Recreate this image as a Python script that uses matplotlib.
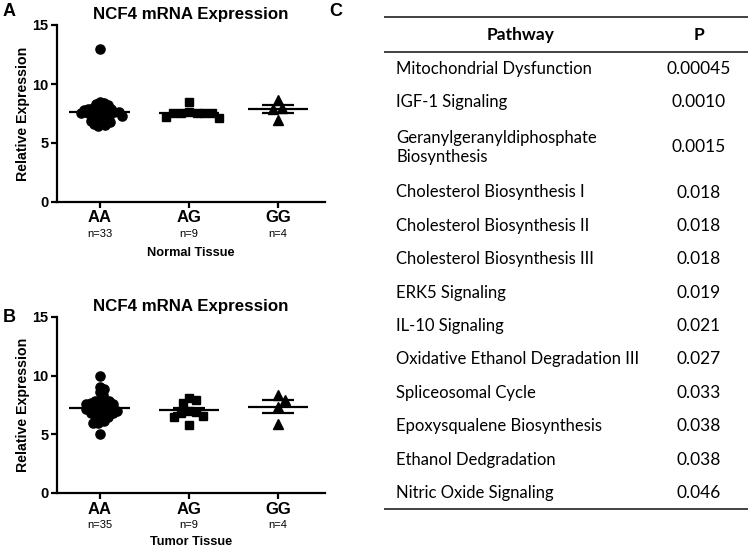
import numpy as np
import matplotlib
matplotlib.use("Agg")
import matplotlib.pyplot as plt

# genotype groups
groups = ["AA", "AG", "GG"]

# panel A - normal tissue
normal_aa = [13.0, 8.5, 8.4, 8.3, 8.2, 8.1, 8.0, 8.0, 7.9, 7.9, 7.8, 7.8, 7.7, 7.7,
             7.6, 7.6, 7.5, 7.5, 7.4, 7.4, 7.3, 7.3, 7.2, 7.1, 7.0, 6.9, 6.9, 6.8,
             6.7, 6.6, 6.5, 6.4, 7.6]
normal_ag = [8.5, 7.55, 7.5, 7.55, 7.5, 7.6, 7.5, 7.2, 7.15]
normal_gg = [8.64, 6.95, 7.9, 7.95]

# panel B - tumor tissue
tumor_aa = [10.0, 9.0, 8.85, 8.6, 8.35, 7.9, 7.9, 7.8, 7.8, 7.7, 7.6, 7.6, 7.5, 7.5,
            7.4, 7.3, 7.3, 7.2, 7.1, 7.1, 7.0, 7.0, 6.9, 6.8, 6.8, 6.7, 6.6, 6.5,
            6.45, 6.3, 6.1, 5.95, 5.95, 5.0, 7.2]
tumor_ag = [8.1, 7.9, 7.7, 7.0, 5.8, 6.9, 6.8, 6.6, 6.5]
tumor_gg = [8.35, 7.93, 7.31, 5.85]

# panel C - pathway table
pathways = ["Mitochondrial Dysfunction", "IGF-1 Signaling",
            "Geranylgeranyldiphosphate\nBiosynthesis", "Cholesterol Biosynthesis I",
            "Cholesterol Biosynthesis II", "Cholesterol Biosynthesis III",
            "ERK5 Signaling", "IL-10 Signaling", "Oxidative Ethanol Degradation III",
            "Spliceosomal Cycle", "Epoxysqualene Biosynthesis", "Ethanol Dedgradation",
            "Nitric Oxide Signaling"]
pvalues = ["0.00045", "0.0010", "0.0015", "0.018", "0.018", "0.018", "0.019",
           "0.021", "0.027", "0.033", "0.038", "0.038", "0.046"]

W, H = 750, 548
fig = plt.figure(figsize=(W / 100, H / 100), dpi=100)
arial = "Liberation Sans"


def swarm(vals, ppu_x, ppu_y, diam):
    # simple beeswarm: put each point as close to the centre as it can go
    ys = np.asarray(vals, dtype=float) * ppu_y
    xs = np.zeros(len(ys))
    placed = []
    for i in np.argsort(-ys):
        cands = [0.0]
        for xj, yj in placed:
            dy = ys[i] - yj
            if abs(dy) < diam:
                dx = np.sqrt(diam ** 2 - dy ** 2)
                cands += [xj + dx, xj - dx]
        cands.sort(key=abs)
        for c in cands:
            if all((c - xj) ** 2 + (ys[i] - yj) ** 2 >= diam ** 2 - 1e-6 for xj, yj in placed):
                xs[i] = c
                break
        placed.append((xs[i], ys[i]))
    return xs / ppu_x


def dot_panel(rect, data, ns, xlabel, letter):
    ax = fig.add_axes(rect)
    ax.set_xlim(0.52, 3.53)
    ax.set_ylim(0, 15)
    ppu_x = ax.bbox.width / 3.01
    ppu_y = ax.bbox.height / 15
    markers = [("o", 6.6, 4.6), ("s", 5.8, 7.8), ("^", 6.8, 9.0)]
    for k, vals in enumerate(data):
        x0 = k + 1
        off = swarm(vals, ppu_x, ppu_y, markers[k][2])
        ax.plot(x0 + off, vals, linestyle="none", marker=markers[k][0],
                markersize=markers[k][1], color="black", clip_on=False)
        m = np.mean(vals)
        sem = np.std(vals, ddof=1) / np.sqrt(len(vals))
        ax.hlines(m, x0 - 0.34, x0 + 0.34, color="black", lw=1.6)
        ax.hlines([m - sem, m + sem], x0 - 0.18, x0 + 0.18, color="black", lw=1.6)
    for s in ["top", "right"]:
        ax.spines[s].set_visible(False)
    for s in ["left", "bottom"]:
        ax.spines[s].set_linewidth(1.6)
    ax.set_yticks([0, 5, 10, 15])
    ax.set_xticks([1, 2, 3])
    ax.set_xticklabels([])
    ax.tick_params(width=1.6, length=4, labelsize=10.5, pad=2)
    for lab in ax.get_yticklabels():
        lab.set_fontweight("bold")
        lab.set_family(arial)
    for k, g in enumerate(groups):
        ax.annotate(g, xy=(k + 1, 0), xycoords=("data", "axes fraction"),
                    xytext=(0, -16), textcoords="offset pixels", ha="center",
                    va="center", fontsize=12, fontweight="bold", family=arial)
        ax.annotate("n=%d" % ns[k], xy=(k + 1, 0), xycoords=("data", "axes fraction"),
                    xytext=(0, -32), textcoords="offset pixels", ha="center",
                    va="center", fontsize=8, family=arial)
    ax.annotate(xlabel[0], xy=(0.5, 0), xycoords="axes fraction",
                xytext=(0, -xlabel[1]), textcoords="offset pixels", ha="center",
                va="center", fontsize=9.2, fontweight="bold", family=arial)
    ax.annotate("Relative Expression", xy=(0, 0.5), xycoords="axes fraction",
                xytext=(-34, 0), textcoords="offset pixels", ha="center",
                va="center", rotation=90, fontsize=10.2, fontweight="bold", family=arial)
    ax.annotate("NCF4 mRNA Expression", xy=(0.5, 1), xycoords="axes fraction",
                xytext=(0, 10), textcoords="offset pixels", ha="center",
                va="center", fontsize=12.2, fontweight="bold", family=arial)
    fig.text(letter[0] / W, 1 - letter[1] / H, letter[2], ha="center", va="center",
             fontsize=13, fontweight="bold", family=arial)
    return ax


dot_panel([57 / W, 1 - 202 / H, 268 / W, 177 / H],
          [normal_aa, normal_ag, normal_gg],
          [len(normal_aa), len(normal_ag), len(normal_gg)],
          ("Normal Tissue", 51), (9, 12, "A"))
dot_panel([57 / W, 1 - 493 / H, 268 / W, 176 / H],
          [tumor_aa, tumor_ag, tumor_gg],
          [len(tumor_aa), len(tumor_ag), len(tumor_gg)],
          ("Tumor Tissue", 49), (9, 317, "B"))

# table (pixel coordinates)
tab = fig.add_axes([0, 0, 1, 1])
tab.set_xlim(0, W)
tab.set_ylim(H, 0)
tab.axis("off")
fig.text(336 / W, 1 - 12 / H, "C", ha="center", va="center", fontsize=13,
         fontweight="bold", family=arial)
tfont = "Lato"
x_left, x_right, x_p = 384, 748, 699
tab.hlines([17, 52], x_left, x_right, color="#333333", lw=1.3)
tab.text(521, 35, "Pathway", ha="center", va="center", fontsize=12.5,
         fontweight="bold", family=tfont)
tab.text(x_p, 35, "P", ha="center", va="center", fontsize=12.5,
         fontweight="bold", family=tfont)
y = 52
for name, p in zip(pathways, pvalues):
    h = 33.4 + 23.6 * name.count("\n")
    yc = y + h / 2
    tab.text(396, yc, name, ha="left", va="center", fontsize=12, family=tfont,
             linespacing=1.2)
    tab.text(x_p, yc, p, ha="center", va="center", fontsize=12.5, family=tfont)
    y += h
tab.hlines([y - 1], x_left, x_right, color="#333333", lw=1.3)

fig.savefig("out.png", dpi=100)
